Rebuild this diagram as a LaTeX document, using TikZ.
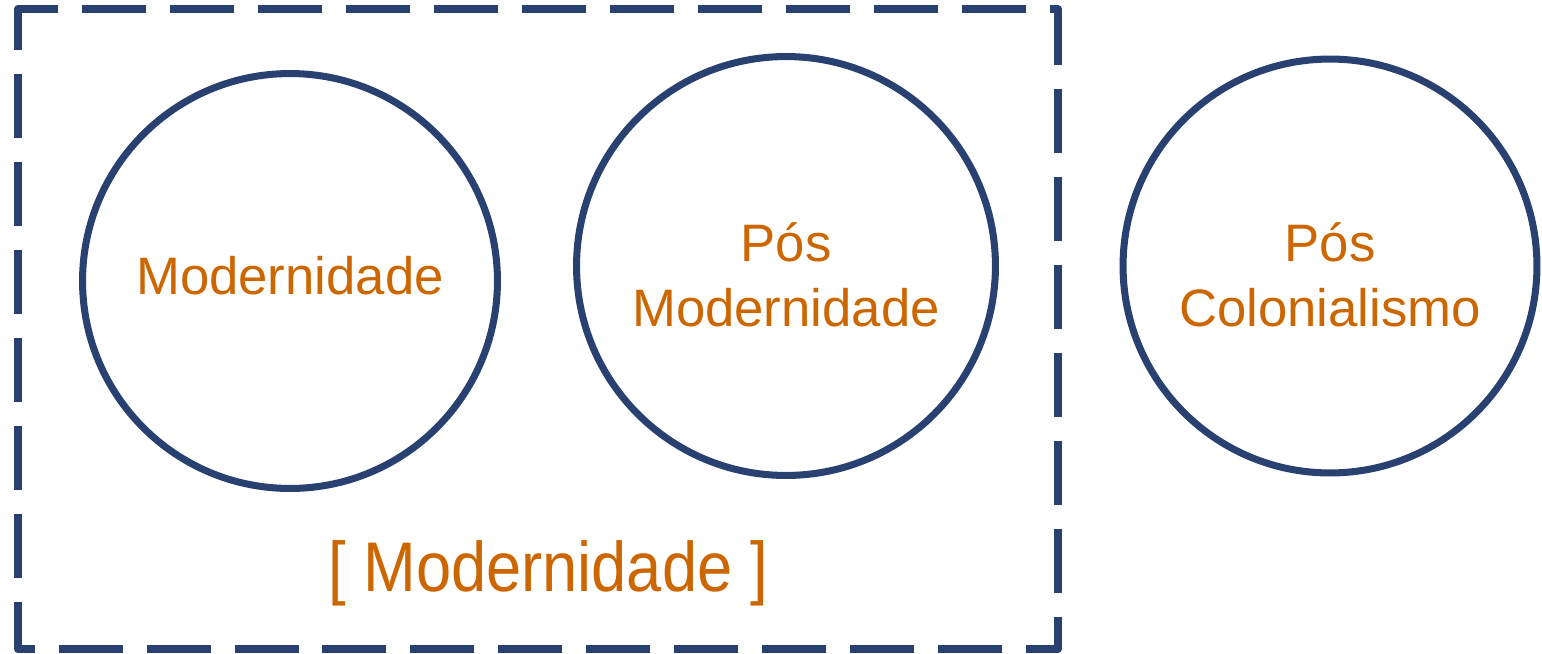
\documentclass[tikz,border=0pt]{standalone}
\usepackage{fontspec}
\setmainfont{Liberation Sans}
\usetikzlibrary{positioning}
\definecolor{framenavy}{HTML}{294171}
\definecolor{labelorange}{HTML}{CC6600}

\begin{document}
\begin{tikzpicture}[x=0.02cm,y=-0.02cm,
		every node/.style={text=labelorange,font=\fontsize{30}{37}\selectfont,align=center},
		era/.style={circle,draw=framenavy,line width=4pt,inner sep=0pt},
		frame/.style={draw=framenavy,line width=4.5pt,line join=round,dash pattern=on 1.28cm off 0.48cm}]

	\useasboundingbox (0,0) rectangle (1542,653);

	% the three circles
	\node [era,minimum size=8.3cm] (modern) at (290,281) {Modernidade\rule[-0.24cm]{0pt}{0pt}};
	\node [era,minimum size=8.38cm] (posmodern) at (786,266) {\rule{0pt}{1.14cm}Pós\\Modernidade};
	\node [era,minimum size=8.28cm] (poscolonial) at (1330,266) {\rule{0pt}{1.14cm}Pós\\Colonialismo};

	% dashed frame round the first two
	\draw [frame] (18,33) -- (18,9) -- (1058,9) -- (1058,649) -- (18,649) -- cycle;
	\node [font=\fontsize{40}{40}\selectfont,xscale=0.9,transform shape] (modernlabel) at (548,573) {[ Modernidade ]};

\end{tikzpicture}
\end{document}
